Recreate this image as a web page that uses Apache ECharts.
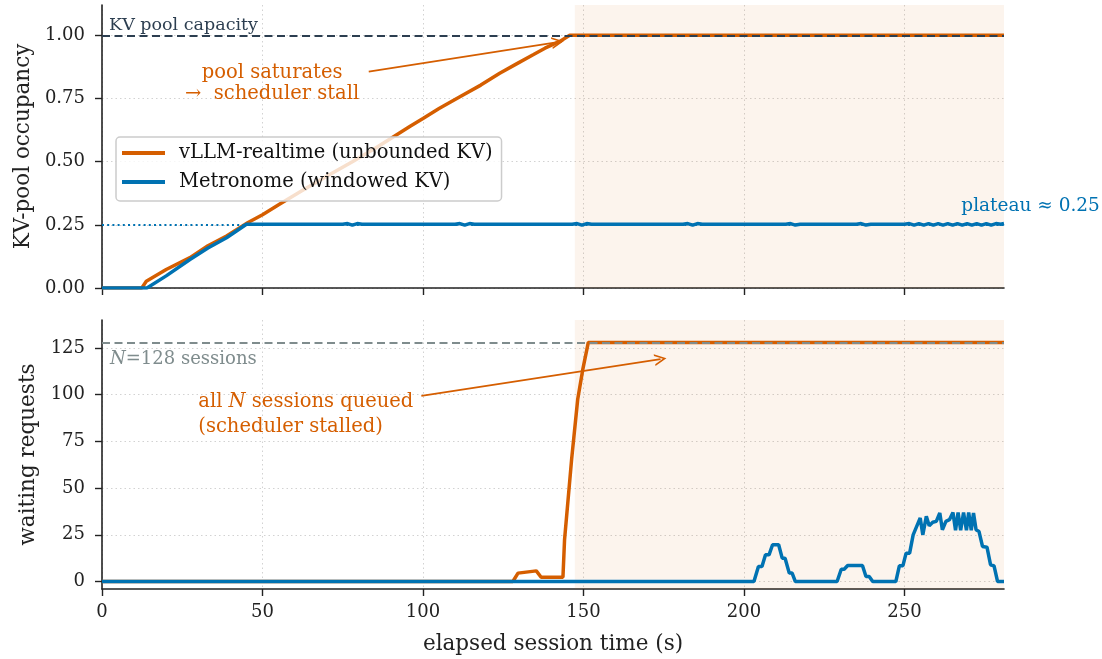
<!DOCTYPE html>
<html>
<head>
<meta charset="UTF-8">
<title>KV-pool occupancy and waiting requests</title>
<script src="https://cdn.jsdelivr.net/npm/echarts@6/dist/echarts.min.js"></script>
<style>
    html, body { margin: 0; padding: 0; background: #fff; }
    #main { width: 1102px; height: 659px; }
</style>
</head>
<body>
<div id="main"></div>
<script>
    // values: [elapsed time (s), value]
    var vllmKv = [[0, 0], [12.4, 0], [13.8, 0.027], [20, 0.073], [27.4, 0.12], [33, 0.167], [38.8, 0.206],
        [45.5, 0.259], [50, 0.29], [55.4, 0.332], [62, 0.383], [70, 0.442], [78, 0.5], [85, 0.552],
        [90.7, 0.598], [96, 0.64], [100, 0.671], [105, 0.71], [111.5, 0.757], [118, 0.803], [123.9, 0.85],
        [129, 0.886], [134.3, 0.923], [138, 0.949], [142.6, 0.976], [145.7, 1.0], [281, 1.0]];
    var metroKv = [[0, 0], [14, 0], [20, 0.048], [27.4, 0.113], [33, 0.158], [38.8, 0.199], [45, 0.252],
        [75, 0.252], [76.5, 0.255], [78, 0.249], [79.5, 0.255], [81, 0.252],
        [110, 0.252], [111.5, 0.255], [113, 0.249], [114.5, 0.255], [116, 0.252],
        [146.5, 0.252], [148, 0.255], [149.5, 0.249], [151, 0.255], [152.5, 0.252],
        [181, 0.252], [182.5, 0.255], [184, 0.249], [185.5, 0.255], [187, 0.252],
        [213, 0.252], [214.5, 0.255], [216, 0.249], [217.5, 0.252],
        [235, 0.252], [236.5, 0.255], [238, 0.249], [239.5, 0.252],
        [250, 0.252], [251.5, 0.255], [253, 0.249], [254.5, 0.255], [256, 0.249], [257.5, 0.255],
        [259, 0.249], [260.5, 0.255], [262, 0.249], [263.5, 0.255], [265, 0.249], [266.5, 0.255],
        [268, 0.249], [269.5, 0.255], [271, 0.249], [272.5, 0.255], [274, 0.249], [275.5, 0.255],
        [277, 0.249], [278.5, 0.255], [280, 0.252], [281, 0.255]];
    var vllmWait = [[0, 0], [128, 0], [129.6, 4.5], [135.3, 5.7], [136.8, 2.3], [143.6, 2.3], [144.1, 22.4],
        [146.3, 65.4], [148.2, 97.6], [149.8, 113.7], [151.5, 128], [281, 128]];
    var metroWait = [[0, 0], [203.1, 0], [204.5, 8.1], [205.6, 8.1], [206.7, 14.3], [207.8, 14.3],
        [208.9, 19.7], [210.8, 19.7], [211.9, 12.5], [212.8, 12.5], [214.1, 4.5], [215, 4.5], [216, 0],
        [229, 0], [230.3, 6.6], [231.2, 6.6], [232.3, 8.6], [236.9, 8.6], [238, 2.7], [239, 2.7], [240.1, 0],
        [247.3, 0], [248.4, 8.4], [249.5, 8.4], [250.5, 15.2], [251.6, 15.2], [252.7, 25], [253.8, 29.5],
        [254.9, 34], [255.7, 25], [256.8, 34.9], [257.7, 29.9], [258.8, 31.7], [259.9, 32.2], [261, 36.7],
        [261.8, 27.7], [262.9, 32.2], [264, 33.1], [265.1, 37], [265.9, 27.4], [266.7, 37], [267.5, 27.4],
        [268.4, 37], [269.3, 27.4], [270, 37], [270.8, 27.4], [271.5, 36.7], [272.3, 27.7], [273.2, 26.8],
        [274.3, 18.8], [275.7, 18.4], [276.8, 9], [277.9, 8.4], [279, 0], [281, 0]];

    var xTicks = [0, 50, 100, 150, 200, 250];
    var kvTicks = [0, 0.25, 0.5, 0.75, 1.0];
    var waitTicks = [0, 25, 50, 75, 100, 125];

    var capacity = 1.0;
    var plateau = 0.252;
    var nSessions = 128;
    var stallStart = 147.3;
    var tMax = 281;

    var ORANGE = '#d55e00';
    var BLUE = '#0072b2';
    var FONT = 'DejaVu Serif';
    var VLLM = 'vLLM-realtime (unbounded KV)';
    var METRO = 'Metronome (windowed KV)';
    // open arrow head (tip at top)
    var HEAD = 'path://M10,0L20,20L17,20L10,6L3,20L0,20Z';

    var myChart = echarts.init(document.getElementById('main'));

    function xAxis(gridIndex, withLabels) {
        return {
            type: 'value', gridIndex: gridIndex, min: 0, max: tMax,
            name: withLabels ? 'elapsed session time (s)' : '',
            nameLocation: 'middle', nameGap: 44,
            nameTextStyle: { fontFamily: FONT, fontSize: 21.5, color: '#222' },
            axisLine: { show: true, onZero: false, lineStyle: { color: '#222', width: 1.6 } },
            axisTick: { show: true, length: 7, customValues: xTicks, lineStyle: { color: '#222', width: 1.4 } },
            axisLabel: { show: withLabels, customValues: xTicks, margin: 14, fontFamily: FONT, fontSize: 18, color: '#222' },
            splitLine: { show: true, lineStyle: { color: '#d2d2d2', width: 1, type: [1.5, 3] } }
        };
    }

    function yAxis(gridIndex, name, lo, hi, ticks, fmt) {
        return {
            type: 'value', gridIndex: gridIndex, min: lo, max: hi,
            name: name, nameLocation: 'middle', nameGap: 63,
            nameTextStyle: { fontFamily: FONT, fontSize: 21.5, color: '#222' },
            axisLine: { show: true, onZero: false, lineStyle: { color: '#222', width: 1.6 } },
            axisTick: { show: true, length: 7, customValues: ticks, lineStyle: { color: '#222', width: 1.4 } },
            axisLabel: { customValues: ticks, margin: 17, fontFamily: FONT, fontSize: 18, color: '#222', formatter: fmt },
            splitLine: { show: true, lineStyle: { color: '#d2d2d2', width: 1, type: [1.5, 3] } }
        };
    }

    function text(coord, str, color, size, align, vAlign, extra) {
        var lbl = {
            show: true, formatter: str, position: [0, 0], align: align, verticalAlign: vAlign,
            fontFamily: FONT, fontSize: size, color: color
        };
        if (extra) {
            for (var k in extra) lbl[k] = extra[k];
        }
        return { coord: coord, symbolSize: 0, label: lbl };
    }

    function italic(color, size) {
        return { i: { fontStyle: 'italic', fontFamily: FONT, fontSize: size, color: color } };
    }

    function arrow(from, to) {
        return {
            silent: true, symbol: ['none', HEAD], symbolSize: 12, label: { show: false },
            lineStyle: { color: ORANGE, width: 1.8, type: 'solid' },
            data: [[{ coord: from, symbol: 'none' }, { coord: to, symbol: HEAD, symbolSize: 12 }]]
        };
    }

    var shade = {
        silent: true,
        itemStyle: { color: 'rgba(213, 94, 0, 0.07)' },
        data: [[{ xAxis: stallStart }, { xAxis: tMax }]]
    };

    var option = {
        animation: false,
        textStyle: { fontFamily: FONT },
        grid: [
            { left: 102, right: 98, top: 5, height: 283 },
            { left: 102, right: 98, top: 320, height: 269 }
        ],
        legend: {
            data: [{ name: VLLM, icon: 'rect' }, { name: METRO, icon: 'rect' }],
            orient: 'vertical', left: 116, top: 137,
            itemWidth: 43, itemHeight: 4, itemGap: 9,
            padding: [6, 9, 9, 6],
            backgroundColor: 'rgba(255,255,255,0.8)',
            borderColor: '#cccccc', borderWidth: 1.5, borderRadius: 4,
            selectedMode: false,
            textStyle: { fontFamily: FONT, fontSize: 19.5, color: '#111', padding: [0, 0, 0, 9] }
        },
        xAxis: [xAxis(0, false), xAxis(1, true)],
        yAxis: [
            yAxis(0, 'KV-pool occupancy', 0, 1.12, kvTicks, function (v) { return v.toFixed(2); }),
            yAxis(1, 'waiting requests', -4, 140, waitTicks, function (v) { return String(v); })
        ],
        series: [
            {
                // top panel: reference lines, shading, notes
                type: 'line', xAxisIndex: 0, yAxisIndex: 0, data: [], z: 1, silent: true,
                markArea: shade,
                markLine: {
                    silent: true, symbol: 'none', label: { show: false },
                    data: [
                        { yAxis: capacity, lineStyle: { color: '#2c3e50', width: 1.8, type: [8, 4.5] } },
                        { yAxis: plateau, lineStyle: { color: BLUE, width: 1.8, type: [2, 3.2] } }
                    ]
                },
                markPoint: {
                    silent: true, symbol: 'circle',
                    data: [
                        text([2.2, 1.004], 'KV pool capacity', '#2c3e50', 17.5, 'left', 'bottom'),
                        text([53, 0.808], 'pool saturates\n\u2192  scheduler stall', ORANGE, 19.5, 'center', 'middle', { lineHeight: 21 }),
                        text([267.7, 0.285], 'plateau \u2248 0.25', BLUE, 18.5, 'left', 'bottom')
                    ]
                }
            },
            {
                type: 'line', xAxisIndex: 0, yAxisIndex: 0, data: [], z: 5, silent: true,
                markLine: arrow([83.1, 0.856], [142, 0.973])
            },
            {
                name: VLLM, type: 'line', xAxisIndex: 0, yAxisIndex: 0, z: 3,
                showSymbol: false, data: vllmKv,
                lineStyle: { color: ORANGE, width: 3.5 }, itemStyle: { color: ORANGE }
            },
            {
                name: METRO, type: 'line', xAxisIndex: 0, yAxisIndex: 0, z: 4,
                showSymbol: false, data: metroKv,
                lineStyle: { color: BLUE, width: 3.5 }, itemStyle: { color: BLUE }
            },
            {
                // bottom panel: reference line, shading, notes
                type: 'line', xAxisIndex: 1, yAxisIndex: 1, data: [], z: 1, silent: true,
                markArea: shade,
                markLine: {
                    silent: true, symbol: 'none', label: { show: false },
                    data: [
                        { yAxis: nSessions, lineStyle: { color: '#7f8c8d', width: 1.8, type: [8, 4.5] } }
                    ]
                },
                markPoint: {
                    silent: true, symbol: 'circle',
                    data: [
                        text([2.5, 123.5], '{i|N}=128 sessions', '#7f8c8d', 18, 'left', 'top', { rich: italic('#7f8c8d', 18) }),
                        text([30, 89.5], 'all {i|N} sessions queued\n(scheduler stalled)', ORANGE, 19.5, 'left', 'middle',
                            { lineHeight: 25, rich: italic(ORANGE, 19.5) })
                    ]
                }
            },
            {
                type: 'line', xAxisIndex: 1, yAxisIndex: 1, data: [], z: 5, silent: true,
                markLine: arrow([99.5, 99.4], [174, 119])
            },
            {
                name: VLLM, type: 'line', xAxisIndex: 1, yAxisIndex: 1, z: 3,
                showSymbol: false, data: vllmWait,
                lineStyle: { color: ORANGE, width: 3.5 }, itemStyle: { color: ORANGE }
            },
            {
                name: METRO, type: 'line', xAxisIndex: 1, yAxisIndex: 1, z: 4,
                showSymbol: false, data: metroWait,
                lineStyle: { color: BLUE, width: 3.5 }, itemStyle: { color: BLUE }
            }
        ]
    };

    myChart.setOption(option);
</script>
</body>
</html>
